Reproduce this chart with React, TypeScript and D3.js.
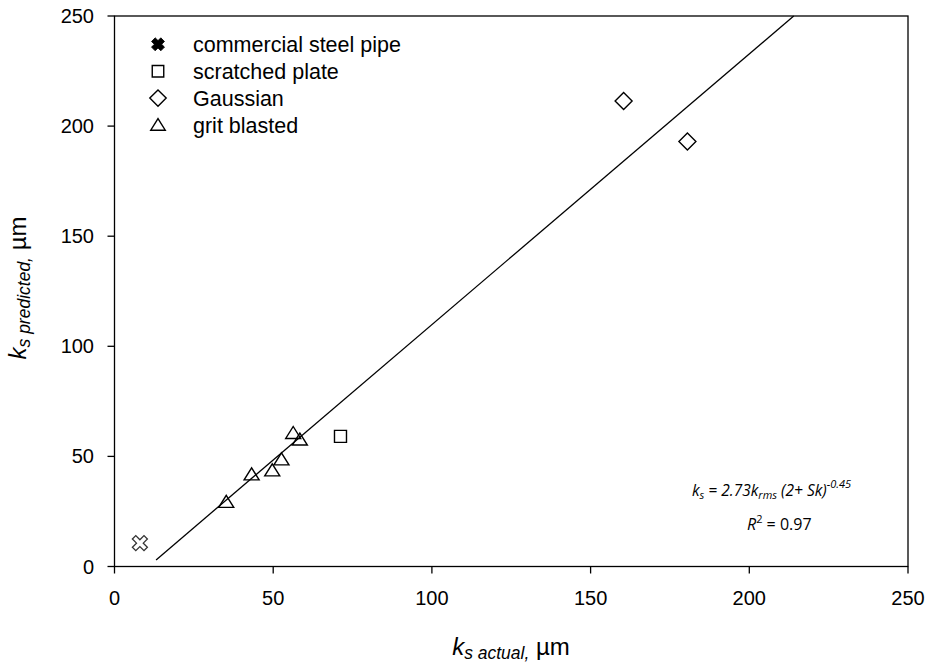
import React from "react";
import * as d3 from "d3";

const xTicks = [0, 50, 100, 150, 200, 250];
const yTicks = [0, 50, 100, 150, 200, 250];

const steelX = [8];
const steelY = [10.6];
const scratchedX = [71.2];
const scratchedY = [59.1];
const gaussX = [160.4, 180.5];
const gaussY = [211.4, 193.0];
const gritX = [35.2, 43.2, 49.7, 52.6, 56.3, 58.4];
const gritY = [29.3, 41.8, 43.6, 48.6, 60.6, 57.6];
const fitX = [13.1, 214];
const fitY = [3.0, 250];

const legendLabels = ["commercial steel pipe", "scratched plate", "Gaussian", "grit blasted"];

const W = 934;
const H = 668;

const xS = d3.scaleLinear().domain([0, 250]).range([114.5, 908]);
const yS = d3.scaleLinear().domain([0, 250]).range([566.5, 16]);

const tri = (cx: number, cy: number, w: number, h: number) =>
  `M${cx - w / 2},${cy + h * 0.45}L${cx + w / 2},${cy + h * 0.45}L${cx},${cy - h * 0.55}Z`;
const sq = (cx: number, cy: number, s: number) => `M${cx - s / 2},${cy - s / 2}h${s}v${s}h${-s}Z`;
const dia = (cx: number, cy: number, r: number) => `M${cx},${cy - r}L${cx + r},${cy}L${cx},${cy + r}L${cx - r},${cy}Z`;
const xShape = (cx: number, cy: number, r: number, t: number) => {
  const a = t / Math.SQRT2;
  const pts = [
    [-r, -r + 2 * a], [-r + 2 * a, -r], [0, -2 * a], [r - 2 * a, -r], [r, -r + 2 * a],
    [2 * a, 0], [r, r - 2 * a], [r - 2 * a, r], [0, 2 * a], [-r + 2 * a, r], [-r, r - 2 * a], [-2 * a, 0],
  ];
  return "M" + pts.map((p) => `${cx + p[0]},${cy + p[1]}`).join("L") + "Z";
};

const sans = "'Liberation Sans', Arial, sans-serif";
const calib = "'Open Sans', 'Liberation Sans', sans-serif";

export default function App() {
  const line = d3.line<number>().x((_, i) => xS(fitX[i])).y((_, i) => yS(fitY[i]));
  return (
    <svg width={W} height={H} style={{ position: "absolute", left: 0, top: 0, background: "#fff" }}>
      <rect x={0} y={0} width={W} height={H} fill="#fff" />
      <rect x={xS(0)} y={yS(250)} width={xS(250) - xS(0)} height={yS(0) - yS(250)} fill="none" stroke="#000" strokeWidth={1.3} />
      {xTicks.map((t) => (
        <g key={"x" + t}>
          <line x1={xS(t)} x2={xS(t)} y1={yS(0)} y2={yS(0) + 7} stroke="#000" strokeWidth={1.3} />
          <text x={xS(t)} y={605} textAnchor="middle" fontFamily={sans} fontSize={20} fill="#000">{t}</text>
        </g>
      ))}
      {yTicks.map((t) => (
        <g key={"y" + t}>
          <line x1={xS(0) - 7} x2={xS(0)} y1={yS(t)} y2={yS(t)} stroke="#000" strokeWidth={1.3} />
          <text x={94} y={yS(t) + 7} textAnchor="end" fontFamily={sans} fontSize={20} fill="#000">{t}</text>
        </g>
      ))}
      <path d={line(fitX) || ""} fill="none" stroke="#000" strokeWidth={1.3} />
      {steelX.map((v, i) => (
        <path key={"s" + i} d={xShape(xS(v), yS(steelY[i]), 7.5, 2.4)} fill="#fff" stroke="#333" strokeWidth={1.3} />
      ))}
      {gritX.map((v, i) => (
        <path key={"g" + i} d={tri(xS(v), yS(gritY[i]), 15, 12)} fill="none" stroke="#000" strokeWidth={1.4} />
      ))}
      {scratchedX.map((v, i) => (
        <path key={"q" + i} d={sq(xS(v), yS(scratchedY[i]), 12)} fill="none" stroke="#000" strokeWidth={1.4} />
      ))}
      {gaussX.map((v, i) => (
        <path key={"d" + i} d={dia(xS(v), yS(gaussY[i]), 8.5)} fill="none" stroke="#000" strokeWidth={1.4} />
      ))}
      {legendLabels.map((lab, i) => {
        const cy = 44.3 + i * 26.9;
        const cx = 158;
        let m;
        if (i === 0) m = <path d={xShape(cx, cy, 6.5, 2.6)} fill="#000" stroke="#000" strokeWidth={0.8} />;
        else if (i === 1) m = <path d={sq(cx, cy, 11.5)} fill="none" stroke="#000" strokeWidth={1.4} />;
        else if (i === 2) m = <path d={dia(cx, cy, 8.2)} fill="none" stroke="#000" strokeWidth={1.4} />;
        else m = <path d={tri(cx, cy, 14.5, 11.5)} fill="none" stroke="#000" strokeWidth={1.4} />;
        return (
          <g key={"l" + i}>
            {m}
            <text x={193} y={cy + 7.5} fontFamily={sans} fontSize={21.5} fill="#000">{lab}</text>
          </g>
        );
      })}
      <text x={692} y={496} fontFamily={calib} fontSize={15.5} fontStyle="italic" fill="#000">
        <tspan>k</tspan>
        <tspan fontSize={11} dy={3}>s</tspan>
        <tspan dy={-3}> = 2.73k</tspan>
        <tspan fontSize={11} dy={3}>rms</tspan>
        <tspan dy={-3}> (2+ Sk)</tspan>
        <tspan fontSize={11} dy={-8}>-0.45</tspan>
      </text>
      <text x={747} y={530} fontFamily={calib} fontSize={16} fill="#000">
        <tspan fontStyle="italic">R</tspan>
        <tspan fontSize={11} dy={-7}>2</tspan>
        <tspan dy={7}> = 0.97</tspan>
      </text>
      <text x={511} y={655} textAnchor="middle" fontFamily={sans} fontSize={24} fill="#000">
        <tspan fontStyle="italic">k</tspan>
        <tspan fontStyle="italic" fontSize={17.5} dy={4}>s actual,</tspan>
        <tspan dy={-4}> µm</tspan>
      </text>
      <text transform={`translate(26,288) rotate(-90)`} textAnchor="middle" fontFamily={sans} fontSize={24} fill="#000">
        <tspan fontStyle="italic">k</tspan>
        <tspan fontStyle="italic" fontSize={17.5} dy={4}>s predicted,</tspan>
        <tspan dy={-4}> µm</tspan>
      </text>
    </svg>
  );
}
